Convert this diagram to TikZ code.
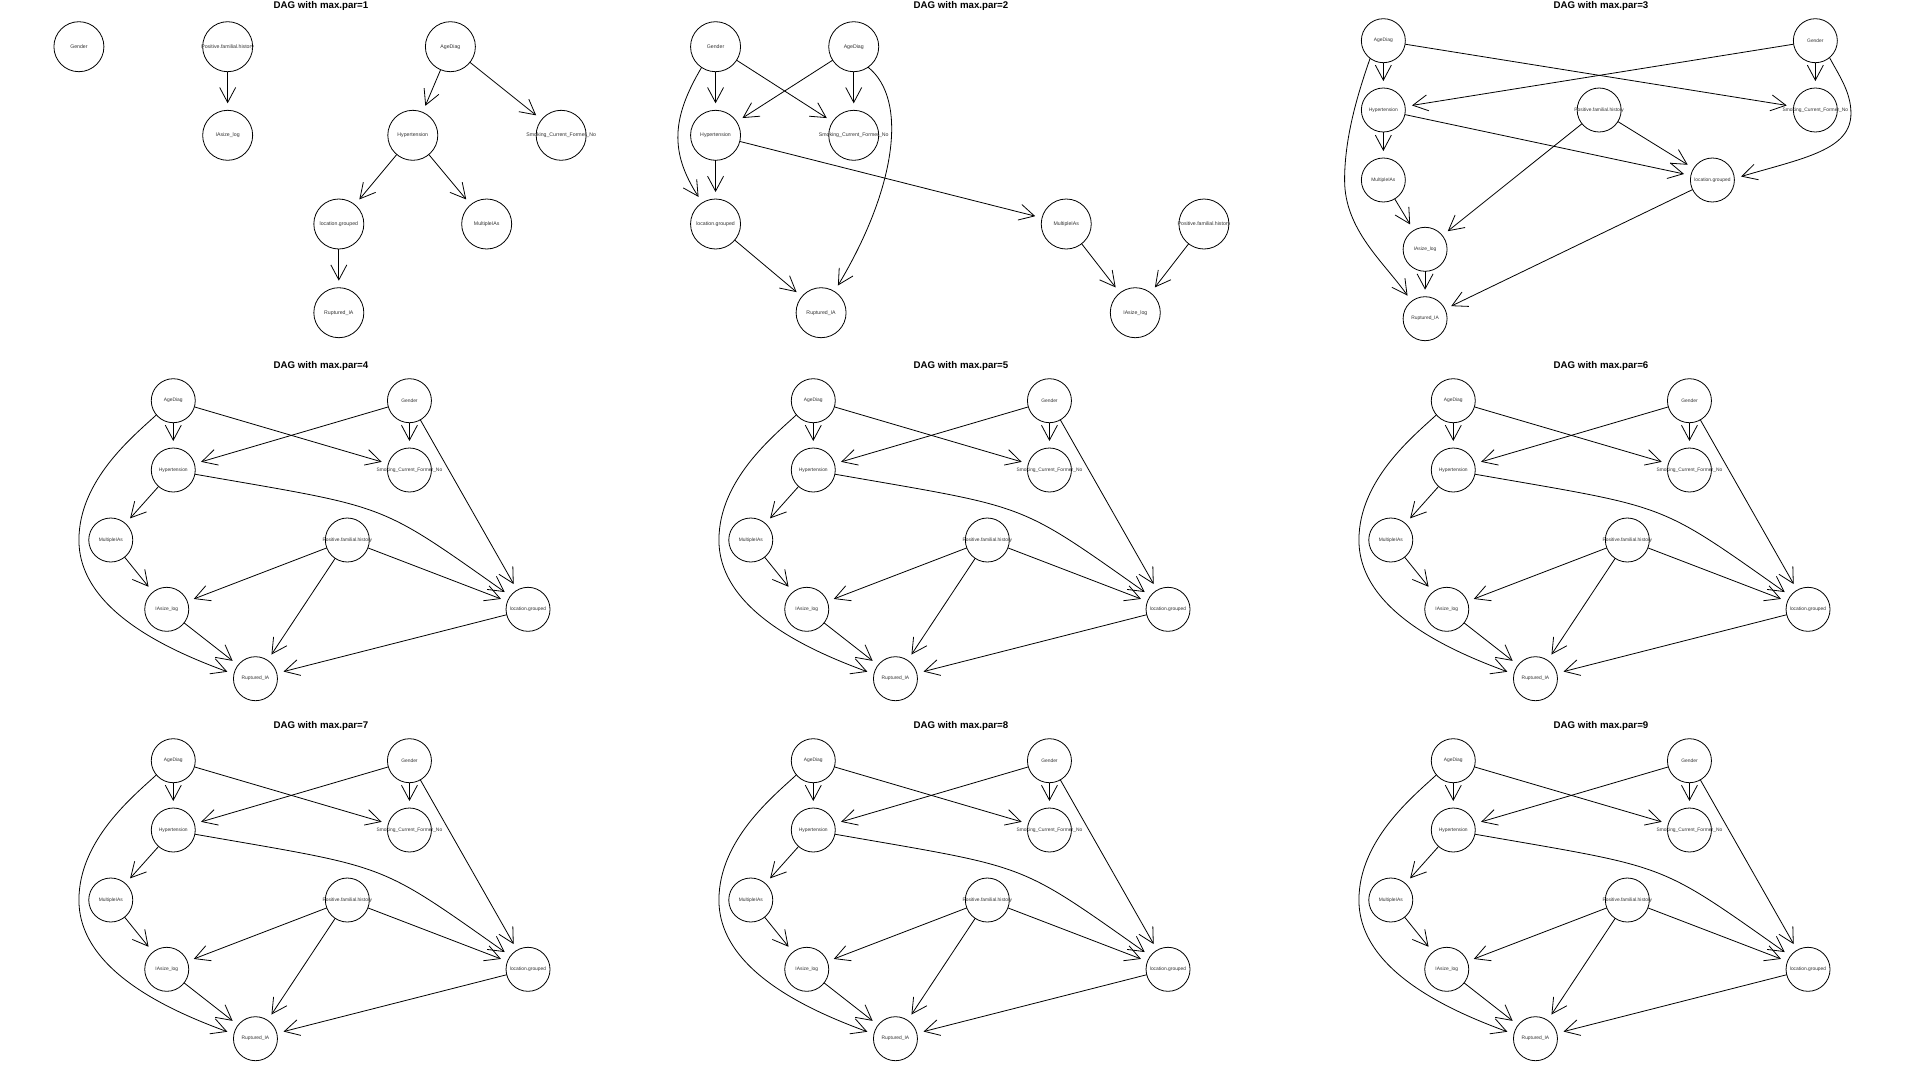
\documentclass[tikz,border=0pt]{standalone}
\usepackage{fontspec}
\setmainfont{Liberation Sans}
\usetikzlibrary{arrows.meta}
\tikzset{
  bnode/.style={circle, draw, line width=0.8pt, inner sep=0pt, outer sep=0pt, minimum size=50pt},
  snode/.style={bnode, minimum size=44pt},
  blab/.style={inner sep=0pt, outer sep=0pt, text=black!80, font=\fontsize{5.2}{6}\selectfont},
  slab/.style={inner sep=0pt, outer sep=0pt, text=black!80, font=\fontsize{4.9}{6}\selectfont},
  arr/.style={line width=0.8pt, -{Straight Barb[length=15pt,width=16pt]}, shorten >=7pt},
  dagtitle/.style={anchor=base, inner sep=0pt, font=\fontsize{9.7}{11}\selectfont\bfseries},
  inpanel/.style={x=0.989pt},
}
\newcommand\FullDag{%
  \node[snode, label={[slab]center:AgeDiag}] (age) at (175.2,40.7) {};
  \node[snode, label={[slab]center:Gender}] (gen) at (414.0,40.7) {};
  \node[snode, label={[slab]center:Hypertension}] (hyp) at (175.2,110) {};
  \node[snode, label={[slab]center:Smoking\_Current\_Former\_No}] (smok) at (414.0,110) {};
  \node[snode, label={[slab]center:MultipleIAs}] (mult) at (112.0,180) {};
  \node[snode, label={[slab]center:Positive.familial.history}] (pos) at (351.2,180) {};
  \node[snode, label={[slab]center:IAsize\_log}] (ias) at (168.6,249.3) {};
  \node[snode, label={[slab]center:location.grouped}] (loc) at (533.9,249.3) {};
  \node[snode, label={[slab]center:Ruptured\_IA}] (rupt) at (258.3,318.7) {};
  \draw[arr] (age) -- (hyp);
  \draw[arr] (age) -- (smok);
  \draw[arr] (gen) -- (hyp);
  \draw[arr] (gen) -- (smok);
  \draw[arr] (gen) -- (loc);
  \draw[arr] (hyp) -- (mult);
  \draw[arr] (mult) -- (ias);
  \draw[arr] (pos) -- (ias);
  \draw[arr] (pos) -- (rupt);
  \draw[arr] (pos) -- (loc);
  \draw[arr] (ias) -- (rupt);
  \draw[arr] (loc) -- (rupt);
  \draw[arr] (age.220) .. controls (135,76) and (79.8,120) .. (79.8,180)
     .. controls (79.8,250) and (170,290) .. (rupt.168);
  \draw[arr] (hyp.349) .. controls (394.7,148.3) and (380,141.1) .. (loc.143);
}
\begin{document}
\begin{tikzpicture}[x=1pt,y=-1pt]
\useasboundingbox (0,0) rectangle (1920,1080);
\fill[white] (0,0) rectangle (1920,1080);
% ---------- panel 1
\begin{scope}[name prefix=pa-]
  \node[dagtitle] (title) at (321,8.5) {DAG with max.par=1};
  \begin{scope}[inpanel]
  \node[bnode, label={[blab]center:Gender}] (gen) at (79.8,46.7) {};
  \node[bnode, label={[blab]center:Positive.familial.history}] (pos) at (230.2,46.7) {};
  \node[bnode, label={[blab]center:AgeDiag}] (age) at (455.4,46.7) {};
  \node[bnode, label={[blab]center:IAsize\_log}] (ias) at (230.2,135.3) {};
  \node[bnode, label={[blab]center:Hypertension}] (hyp) at (417.4,135.3) {};
  \node[bnode, label={[blab]center:Smoking\_Current\_Former\_No}] (smok) at (567.4,135.3) {};
  \node[bnode, label={[blab]center:location.grouped}] (loc) at (342.6,224) {};
  \node[bnode, label={[blab]center:MultipleIAs}] (mult) at (492.1,224) {};
  \node[bnode, label={[blab]center:Ruptured\_IA}] (rupt) at (342.6,312.7) {};
  \draw[arr] (pos) -- (ias);
  \draw[arr] (age) -- (hyp);
  \draw[arr] (age) -- (smok);
  \draw[arr] (hyp) -- (loc);
  \draw[arr] (hyp) -- (mult);
  \draw[arr] (loc) -- (rupt);
  \end{scope}
\end{scope}
% ---------- panel 2
\begin{scope}[shift={(640,0)}, name prefix=pb-]
  \node[dagtitle] (title) at (321,8.5) {DAG with max.par=2};
  \begin{scope}[inpanel]
  \node[bnode, label={[blab]center:Gender}] (gen) at (76.4,46.7) {};
  \node[bnode, label={[blab]center:AgeDiag}] (age) at (216.1,46.7) {};
  \node[bnode, label={[blab]center:Hypertension}] (hyp) at (76.4,135.3) {};
  \node[bnode, label={[blab]center:Smoking\_Current\_Former\_No}] (smok) at (216.1,135.3) {};
  \node[bnode, label={[blab]center:location.grouped}] (loc) at (76.4,224) {};
  \node[bnode, label={[blab]center:Ruptured\_IA}] (rupt) at (183.1,312.7) {};
  \node[bnode, label={[blab]center:MultipleIAs}] (mult) at (431.0,224) {};
  \node[bnode, label={[blab]center:Positive.familial.history}] (pos) at (570.2,224) {};
  \node[bnode, label={[blab]center:IAsize\_log}] (ias) at (500.8,312.7) {};
  \draw[arr] (gen) -- (hyp);
  \draw[arr] (gen) -- (smok);
  \draw[arr] (age) -- (hyp);
  \draw[arr] (age) -- (smok);
  \draw[arr] (hyp) -- (loc);
  \draw[arr] (hyp) -- (mult);
  \draw[arr] (loc) -- (rupt);
  \draw[arr] (mult) -- (ias);
  \draw[arr] (pos) -- (ias);
  \draw[arr] (gen.236) .. controls (32,118) and (30,152) .. (loc.122);
  \draw[arr] (age.305) .. controls (272,100) and (258,190) .. (rupt.58);
  \end{scope}
\end{scope}
% ---------- panel 3
\begin{scope}[shift={(1280,0)}, name prefix=pc-]
  \node[dagtitle] (title) at (321,8.5) {DAG with max.par=3};
  \begin{scope}[inpanel]
  \node[snode, label={[slab]center:AgeDiag}] (age) at (104.5,40.7) {};
  \node[snode, label={[slab]center:Gender}] (gen) at (541.3,40.7) {};
  \node[snode, label={[slab]center:Hypertension}] (hyp) at (104.5,110) {};
  \node[snode, label={[slab]center:Positive.familial.history}] (pos) at (322.7,110) {};
  \node[snode, label={[slab]center:Smoking\_Current\_Former\_No}] (smok) at (541.3,110) {};
  \node[snode, label={[slab]center:MultipleIAs}] (mult) at (104.5,180) {};
  \node[snode, label={[slab]center:location.grouped}] (loc) at (437.2,180) {};
  \node[snode, label={[slab]center:IAsize\_log}] (ias) at (146.7,249.3) {};
  \node[snode, label={[slab]center:Ruptured\_IA}] (rupt) at (146.7,318.7) {};
  \draw[arr] (age) -- (hyp);
  \draw[arr] (age) -- (smok);
  \draw[arr] (gen) -- (hyp);
  \draw[arr] (gen) -- (smok);
  \draw[arr] (hyp) -- (mult);
  \draw[arr] (hyp) -- (loc);
  \draw[arr] (pos) -- (loc);
  \draw[arr] (pos) -- (ias);
  \draw[arr] (mult) -- (ias);
  \draw[arr] (ias) -- (rupt);
  \draw[arr] (loc) -- (rupt);
  \draw[arr] (age.233) .. controls (80,90) and (65.3,135) .. (65.3,180)
     .. controls (65.3,230) and (105,262) .. (rupt.128);
  \draw[arr] (gen.310) .. controls (565,75) and (577.3,92) .. (577.3,113.3)
     .. controls (577.3,150) and (530,158) .. (loc.4);
  \end{scope}
\end{scope}
% ---------- panels 4-9
\begin{scope}[shift={(0,360)}, name prefix=pd-]
  \node[dagtitle] (title) at (321,8.5) {DAG with max.par=4};
  \begin{scope}[inpanel]\FullDag\end{scope}
\end{scope}
\begin{scope}[shift={(640,360)}, name prefix=pe-]
  \node[dagtitle] (title) at (321,8.5) {DAG with max.par=5};
  \begin{scope}[inpanel]\FullDag\end{scope}
\end{scope}
\begin{scope}[shift={(1280,360)}, name prefix=pf-]
  \node[dagtitle] (title) at (321,8.5) {DAG with max.par=6};
  \begin{scope}[inpanel]\FullDag\end{scope}
\end{scope}
\begin{scope}[shift={(0,720)}, name prefix=pg-]
  \node[dagtitle] (title) at (321,8.5) {DAG with max.par=7};
  \begin{scope}[inpanel]\FullDag\end{scope}
\end{scope}
\begin{scope}[shift={(640,720)}, name prefix=ph-]
  \node[dagtitle] (title) at (321,8.5) {DAG with max.par=8};
  \begin{scope}[inpanel]\FullDag\end{scope}
\end{scope}
\begin{scope}[shift={(1280,720)}, name prefix=pi-]
  \node[dagtitle] (title) at (321,8.5) {DAG with max.par=9};
  \begin{scope}[inpanel]\FullDag\end{scope}
\end{scope}
\end{tikzpicture}
\end{document}
